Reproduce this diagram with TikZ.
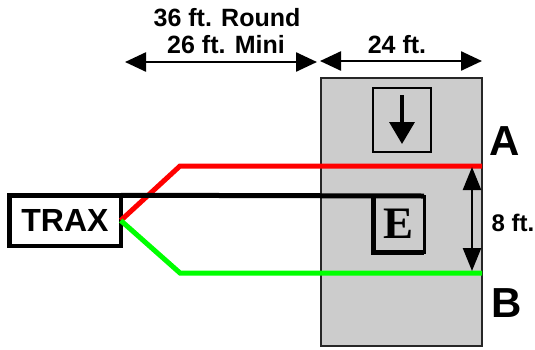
\documentclass[tikz,border=0pt]{standalone}
\usepackage{fontspec}
\setmainfont{Liberation Sans}
\newfontfamily\serifE{Liberation Serif}
\usetikzlibrary{arrows.meta}
\tikzset{
  lbl/.style={font=\bfseries\fontsize{25}{27}\selectfont, inner sep=0pt, anchor=base},
  big/.style={font=\bfseries\fontsize{42}{44}\selectfont, inner sep=0pt, anchor=base},
  dimarrow/.style={line width=2.5pt, {Triangle[length=21pt,width=19pt]}-{Triangle[length=21pt,width=19pt]}},
  track/.style={line width=5pt, line join=miter},
}
\begin{document}
\begin{tikzpicture}[x=1pt,y=-1pt]
\useasboundingbox (0,0) rectangle (535,349);
% grey area
\node[draw=black!85, line width=2pt, fill=black!20, minimum width=161pt, minimum height=268pt, inner sep=0pt] (area) at (401.5,212) {};
% arrow box
\node[draw, line width=2pt, minimum width=58pt, minimum height=64pt, inner sep=0pt] (abox) at (402,120) {};
\coordinate (aS) at (402,95);
\coordinate (aE) at (402,144);
\draw[line width=3.5pt, -{Triangle[length=22pt,width=25pt]}] (aS) -- (aE);
% E box
\node[draw, line width=3pt, outer sep=0pt, minimum width=51pt, minimum height=56pt, inner sep=0pt, font=\serifE\bfseries\fontsize{45}{45}\selectfont] (ebox) at (398.5,224) {E};
\draw[line width=5pt] (ebox.north west) -- (ebox.south west) -- (ebox.south east);
% TRAX
\node[draw, line width=4.5pt, outer sep=0pt, minimum width=111.5pt, minimum height=50.5pt, inner sep=0pt, font=\bfseries\fontsize{32}{32}\selectfont] (trax) at (65,220.5) {TRAX};
% tracks
\coordinate (rk) at (180,166);
\coordinate (rA) at (482,166);
\coordinate (gk) at (180,273);
\coordinate (gB) at (482,273);
\draw[track, red] (trax.east) -- (rk) -- (rA);
\draw[track, green] (trax.east) -- (gk) -- (gB);
\draw[track, black] (trax.north east) -- (ebox.north east);
% labels A B
\node[big] (A) at (505,155) {A};
\node[big] (B) at (507,317) {B};
% 8 ft
\coordinate (e1) at (472,167);
\coordinate (e2) at (472,271);
\draw[dimarrow, {Triangle[length=23pt,width=18pt]}-{Triangle[length=23pt,width=18pt]}] (e1) -- (e2);
\node[lbl, font=\bfseries\fontsize{24}{26}\selectfont] (eight) at (513,231) {8 ft.};
% top dims
\node[lbl] (round) at (227,26) {36 ft. Round};
\node[lbl] (mini) at (226,53) {26 ft. Mini};
\coordinate (d1) at (125,62);
\coordinate (d2) at (317,62);
\draw[dimarrow] (d1) -- (d2);
\node[lbl] (tf) at (397,53) {24 ft.};
\coordinate (f1) at (320,61);
\coordinate (f2) at (482,61);
\draw[dimarrow] (f1) -- (f2);
\end{tikzpicture}
\end{document}
